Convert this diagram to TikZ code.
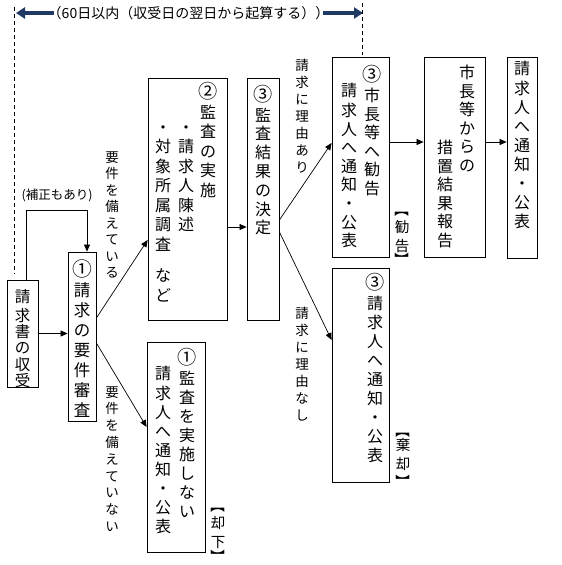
\documentclass[tikz,border=0pt]{standalone}
\usepackage{fontspec}
\usepackage{graphicx}
\setmainfont{Noto Sans CJK JP}
\usetikzlibrary{arrows.meta,calc}
\definecolor{navy}{HTML}{203864}
\newcommand\cn[1]{\scalebox{1.2}{#1}}
\newcommand\vcol[6]{%
  \pgfmathsetmacro\vcTop{#3-(0.7*#5-0.38*#4)}%
  \node[inner sep=0pt, outer sep=0pt, anchor=north, align=center, font=\fontsize{#4}{#5}\selectfont] (#1) at (#2,\vcTop) {\strut #6};%
}
\tikzset{
  box/.style={draw, line width=0.8pt, inner sep=0pt},
  arr/.style={-{Triangle[length=7pt,width=6pt]}, line width=0.7pt},
  bigarr/.style={-{Triangle[length=9pt,width=11pt]}, line width=4pt, navy},
  dashline/.style={line width=0.8pt, dash pattern=on 4pt off 3pt},
  brk/.style={font=\fontsize{14.5}{18}\selectfont, inner sep=0pt, rotate=-90},
}
\begin{document}
\begin{tikzpicture}[x=1pt,y=-1pt]
\useasboundingbox (0,0) rectangle (562,565);

% top span
\node[font=\fontsize{14}{16}\selectfont, inner sep=0pt] (T) at (188.5,13) {（60日以内（収受日の翌日から起算する））};
\coordinate (LT) at (16,13);
\coordinate (RT) at (363,13);
\draw[bigarr] ([xshift=6pt]T.west) -- (LT);
\draw[bigarr] ([xshift=-6pt]T.east) -- (RT);
\coordinate (DL1) at (14,7);
\coordinate (DL2) at (14,274);
\coordinate (DR1) at (362,3);
\coordinate (DR2) at (362,55);
\draw[dashline] (DL1) -- (DL2);
\draw[dashline] (DR1) -- (DR2);

% boxes
\node[box, minimum width=31pt, minimum height=107pt] (A) at (22.5,333.5) {};
\node[box, minimum width=28pt, minimum height=169pt] (B) at (82,336.5) {};
\node[box, minimum width=79pt, minimum height=242pt] (C) at (187.5,199) {};
\node[box, minimum width=32pt, minimum height=242pt] (D) at (263,199) {};
\node[box, minimum width=57pt, minimum height=200pt] (E) at (360.5,157) {};
\node[box, minimum width=61pt, minimum height=200pt] (F) at (454.5,157) {};
\node[box, minimum width=30pt, minimum height=201pt] (G) at (522,157.5) {};
\node[box, minimum width=57pt, minimum height=214pt] (H) at (360.5,375) {};
\node[box, minimum width=58pt, minimum height=210pt] (I) at (176,447) {};

% box texts
\vcol{At}{22.5}{295}{15.5}{16.3}{請\\求\\書\\の\\収\\受}
\vcol{Bt}{82}{267}{16.5}{20}{\cn{①}\\請\\求\\の\\要\\件\\審\\査}
\vcol{Cr}{208}{90}{16}{19.5}{\cn{②}\\監\\査\\の\\実\\施}
\vcol{Cm}{186}{127}{16}{19.5}{・\\請\\求\\人\\陳\\述}
\vcol{Cl}{163}{127}{16}{19.5}{・\\対\\象\\所\\属\\調\\査\\[12pt]な\\ど}
\vcol{Dt}{263}{92}{16}{18.8}{\cn{③}\\監\\査\\結\\果\\の\\決\\定}
\vcol{Er}{372}{72}{16}{18.6}{\cn{③}\\市\\長\\等\\へ\\勧\\告}
\vcol{El}{349}{90}{16}{18.6}{請\\求\\人\\へ\\通\\知\\・\\公\\表}
\vcol{Fr}{467}{72}{16}{18.6}{市\\長\\等\\か\\ら\\の}
\vcol{Fl}{445}{147}{16}{18.6}{措\\置\\結\\果\\報\\告}
\vcol{Gt}{522}{68}{16}{19}{請\\求\\人\\へ\\通\\知\\・\\公\\表}
\vcol{Ht}{375}{280}{16}{19}{\cn{③}\\請\\求\\人\\へ\\通\\知\\・\\公\\表}
\vcol{Ir}{187}{355}{16}{19}{\cn{①}\\監\\査\\を\\実\\施\\し\\な\\い}
\vcol{Il}{163}{373}{16}{19}{請\\求\\人\\へ\\通\\知\\・\\公\\表}

% labels
\node[font=\fontsize{12.5}{15}\selectfont, inner sep=0pt] (P) at (57,195) {(補正もあり)};
\vcol{L1}{112}{157}{13.5}{16.5}{要\\件\\を\\備\\え\\て\\い\\る}
\vcol{L2}{112}{392}{13.5}{16.8}{要\\件\\を\\備\\え\\て\\い\\な\\い}
\vcol{L3}{302}{65}{13.5}{17}{請\\求\\に\\理\\由\\あ\\り}
\vcol{L4}{302}{313}{13.5}{17}{請\\求\\に\\理\\由\\な\\し}

\node[brk] (K1a) at (402,209.5) {【};
\vcol{K1}{402}{227}{14.5}{18.5}{勧\\告}
\node[brk] (K1b) at (402,259.5) {】};
\node[brk] (K2a) at (403,430.5) {【};
\vcol{K2}{403}{445}{14.5}{18.5}{棄\\却}
\node[brk] (K2b) at (403,481.5) {】};
\node[brk] (K3a) at (218,505.5) {【};
\vcol{K3}{218}{523}{14.5}{18.5}{却\\下}
\node[brk] (K3b) at (218,556.5) {】};

% connectors
\draw[arr] (A.east) -- (A.east -| B.west);
\draw[arr] ([xshift=3.5pt]A.north) -- ++(0,-69) -| ([xshift=5pt]B.north);
\draw[arr] ($(B.east)+(0,-18.5)$) -- ($(C.west)+(0,41)$);
\draw[arr] ($(B.east)+(0,6.5)$) -- ($(I.west)+(0,-20)$);
\coordinate (c1) at ($(C.east)+(0,28)$);
\draw[arr] (c1) -- (c1 -| D.west);
\draw[arr] ($(D.east)+(0,21)$) -- ($(E.west)+(0,-14)$);
\draw[arr] ($(D.east)+(0,33)$) -- ($(H.west)+(0,-35)$);
\coordinate (e1) at ($(E.east)+(0,-15)$);
\draw[arr] (e1) -- (e1 -| F.west);
\coordinate (f1) at ($(F.east)+(0,-15)$);
\draw[arr] (f1) -- (f1 -| G.west);
\end{tikzpicture}
\end{document}
